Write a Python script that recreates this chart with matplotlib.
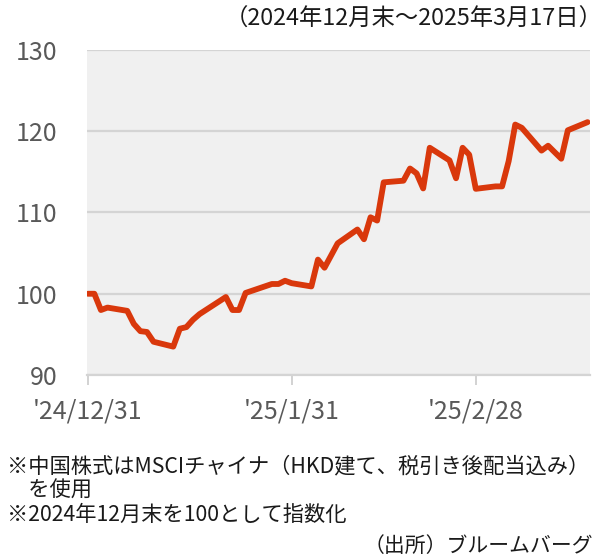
import matplotlib
matplotlib.use("Agg")
import matplotlib.pyplot as plt
import pandas as pd

plt.rcParams['font.family'] = ['Noto Sans CJK JP', 'DejaVu Sans']

# --- data (index: end of Dec 2024 = 100) ---
dates = [
    "2024-12-31", "2025-01-01", "2025-01-02", "2025-01-03", "2025-01-06",
    "2025-01-07", "2025-01-08", "2025-01-09", "2025-01-10", "2025-01-13",
    "2025-01-14", "2025-01-15", "2025-01-16", "2025-01-17", "2025-01-21",
    "2025-01-22", "2025-01-23", "2025-01-24", "2025-01-28", "2025-01-29",
    "2025-01-30", "2025-01-31", "2025-02-03", "2025-02-04", "2025-02-05",
    "2025-02-07", "2025-02-10", "2025-02-11", "2025-02-12", "2025-02-13",
    "2025-02-14", "2025-02-17", "2025-02-18", "2025-02-19", "2025-02-20",
    "2025-02-21", "2025-02-24", "2025-02-25", "2025-02-26", "2025-02-27",
    "2025-02-28", "2025-03-03", "2025-03-04", "2025-03-05", "2025-03-06",
    "2025-03-07", "2025-03-10", "2025-03-11", "2025-03-13", "2025-03-14",
    "2025-03-17",
]
msci_china = [
    100.0, 100.0, 98.0, 98.3, 97.9,
    96.3, 95.4, 95.3, 94.1, 93.5,
    95.7, 95.9, 96.8, 97.5, 99.6,
    98.0, 98.0, 100.1, 101.2, 101.2,
    101.6, 101.3, 100.9, 104.2, 103.2,
    106.2, 107.9, 106.7, 109.4, 109.0,
    113.7, 113.9, 115.4, 114.8, 112.95,
    117.95, 116.4, 114.2, 117.95, 117.1,
    112.9, 113.2, 113.2, 116.3, 120.8,
    120.4, 117.6, 118.2, 116.6, 120.1,
    121.1,
]
tick_dates = ["2024-12-31", "2025-01-31", "2025-02-28"]
tick_labels = ["'24/12/31", "'25/1/31", "'25/2/28"]
y_ticks = [90, 100, 110, 120, 130]

period_note = "（2024年12月末～2025年3月17日）"
footnotes = "※中国株式はMSCIチャイナ（HKD建て、税引き後配当込み）\n　を使用\n※2024年12月末を100として指数化"
source = "（出所）ブルームバーグ"

x = pd.to_datetime(dates)

fig = plt.figure(figsize=(6.08, 5.59), dpi=100)
ax = fig.add_axes([0.143, 0.329, 0.827, 0.582])
ax.set_facecolor("#f0f0f0")

ax.plot(x, msci_china, color="#d9380c", lw=4.2,
        solid_joinstyle="round", solid_capstyle="round", zorder=3)

ax.set_ylim(90, 130)
ax.set_yticks(y_ticks)
ax.set_xlim(pd.Timestamp("2024-12-31") - pd.Timedelta(hours=3),
            pd.Timestamp("2025-03-17") + pd.Timedelta(hours=8))
ax.set_xticks(pd.to_datetime(tick_dates))
ax.set_xticklabels(tick_labels)

ax.grid(axis="y", color="#d4d4d4", lw=1.6, zorder=1)
ax.grid(axis="x", visible=False)
for side in ["top", "right", "left"]:
    ax.spines[side].set_visible(False)
ax.spines["bottom"].set_color("#d4d4d4")
ax.spines["bottom"].set_linewidth(1.6)

ax.tick_params(axis="y", length=0, pad=21, labelsize=18, labelcolor="#595959")
ax.tick_params(axis="x", length=7, width=1.3, color="#cfcfcf", pad=10,
               labelsize=18, labelcolor="#595959")

fig.text(0.992, 0.966, period_note, ha="right", va="center", fontsize=16.8, color="#1a1a1a")
fig.text(0.012, 0.186, footnotes, ha="left", va="top", fontsize=15.3,
         color="#1a1a1a", linespacing=1.13)
fig.text(0.975, 0.024, source, ha="right", va="center", fontsize=15, color="#1a1a1a")

fig.savefig("out.png", dpi=100)
